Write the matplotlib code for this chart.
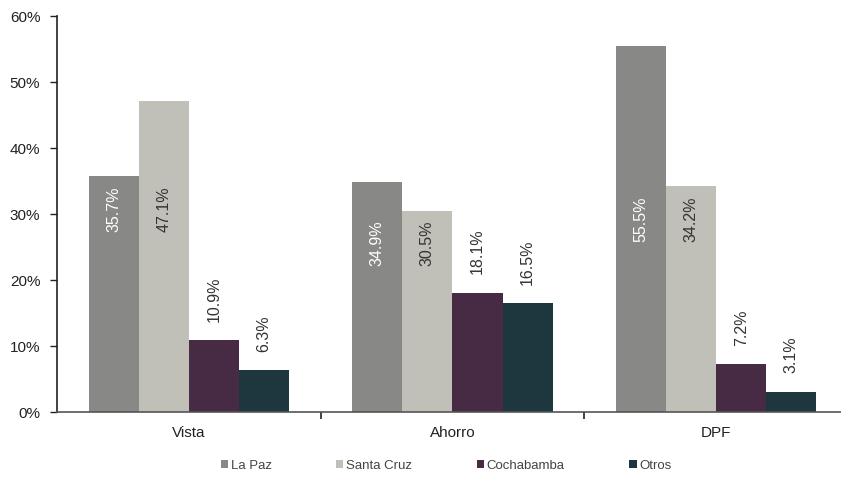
import numpy as np
import matplotlib.pyplot as plt

plt.rcParams['font.family'] = ['Liberation Sans', 'DejaVu Sans']

categories = ['Vista', 'Ahorro', 'DPF']
series = ['La Paz', 'Santa Cruz', 'Cochabamba', 'Otros']
la_paz = [35.7, 34.9, 55.5]
santa_cruz = [47.1, 30.5, 34.2]
cochabamba = [10.9, 18.1, 7.2]
otros = [6.3, 16.5, 3.1]

colors = ['#888886', '#c0c0b8', '#472a44', '#1e363d']
values = [la_paz, santa_cruz, cochabamba, otros]

fig = plt.figure(figsize=(8.41, 4.83), dpi=100)
ax = fig.add_axes([57 / 841, 1 - 412 / 483, 791 / 841, 396 / 483])

x = np.arange(len(categories))
w = 0.19
offsets = [-1.5, -0.5, 0.5, 1.5]

for k, (name, vals, col) in enumerate(zip(series, values, colors)):
    bars = ax.bar(x + offsets[k] * w, vals, w, color=col, label=name,
                  edgecolor='none', zorder=2)
    for i, b in enumerate(bars):
        cx = b.get_x() + b.get_width() / 2
        txt = f'{vals[i]:.1f}%'
        if k < 2:
            # big bars: label sits inside, just under the shorter of the two
            ytop = min(la_paz[i], santa_cruz[i]) - 1.5
            ax.text(cx, ytop, txt, rotation=90, ha='center', va='top',
                    fontsize=11.5, color='white' if k == 0 else '#333333',
                    zorder=3)
        else:
            ax.text(cx, vals[i] + 2.8, txt, rotation=90, ha='center',
                    va='bottom', fontsize=11.5, color='#333333', zorder=3)

ax.set_xlim(-0.5, 2.5)
ax.set_ylim(0, 60)
ax.set_yticks(np.arange(0, 61, 10))
ax.set_yticklabels([f'{v}%' for v in range(0, 61, 10)])
ax.set_xticks(x)
ax.set_xticklabels(categories)
ax.set_xticks([0.5, 1.5], minor=True)
ax.tick_params(axis='x', which='major', length=0, pad=10, labelsize=11,
               labelcolor='#222222')
ax.tick_params(axis='x', which='minor', length=5, width=1.2, color='#222222',
               direction='out')
ax.tick_params(axis='y', length=5, width=1, color='#222222', pad=7,
               labelsize=11, labelcolor='#222222')

for s in ['top', 'right']:
    ax.spines[s].set_visible(False)
ax.spines['left'].set_color('#222222')
ax.spines['bottom'].set_color('#555555')
ax.spines['left'].set_linewidth(1.2)
ax.spines['bottom'].set_linewidth(1.2)

fig.legend(loc='center', bbox_to_anchor=(446 / 841, 1 - 466 / 483), ncol=4,
           frameon=False, fontsize=9.5, handlelength=0.55, handleheight=0.55,
           handletextpad=0.2, columnspacing=4.9, labelcolor='#444444')

fig.savefig('out.png', dpi=100)
